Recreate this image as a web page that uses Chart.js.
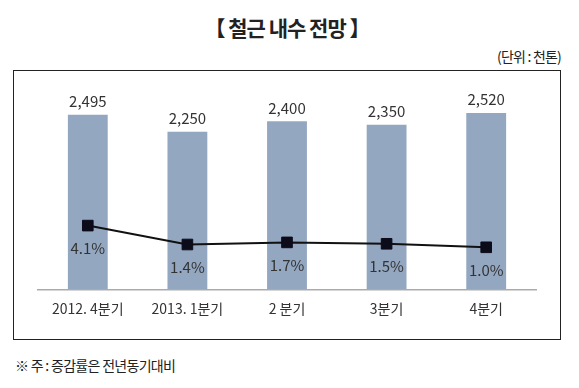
<!DOCTYPE html>
<html>
<head>
<meta charset="utf-8">
<title>철근 내수 전망</title>
<script src="https://cdn.jsdelivr.net/npm/chart.js@4/dist/chart.umd.min.js"></script>
<style>
  body { margin: 0; background: #fff; width: 579px; height: 388px; position: relative; overflow: hidden;
         font-family: "Noto Sans CJK KR", sans-serif; color: #222; }
  .title { position: absolute; left: 0; width: 574px; top: 12px; text-align: center;
           font-size: 21px; font-weight: bold; letter-spacing: -1px; }
  .unit { position: absolute; right: 18px; top: 46px; font-size: 14px; letter-spacing: -0.8px; }
  .box { position: absolute; left: 13px; top: 70px; width: 546px; height: 268px; border: 1.5px solid #222; }
  .note { position: absolute; left: 15px; top: 355px; font-size: 14px; letter-spacing: -0.7px; }
  #chart { position: absolute; left: 0; top: 0; }
</style>
</head>
<body>
<div class="title">【 철근 내수 전망 】</div>
<div class="unit">(단위 : 천톤)</div>
<div class="box"></div>
<div class="note">※ 주 : 증감률은 전년동기대비</div>
<canvas id="chart" width="579" height="388"></canvas>
<script>
// 분기별 내수 (천톤) 와 전년동기대비 증감률 (%)
const quarters = ["2012. 4분기", "2013. 1분기", "2 분기", "3분기", "4분기"];
const demand = [2495, 2250, 2400, 2350, 2520];
const growth = [4.1, 1.4, 1.7, 1.5, 1.0];

const labelPlugin = {
  id: "valueLabels",
  afterDatasetsDraw(chart) {
    const ctx = chart.ctx;
    ctx.save();
    ctx.font = "15px 'Noto Sans CJK KR'";
    ctx.fillStyle = "#333";
    ctx.textAlign = "center";
    ctx.textBaseline = "middle";
    chart.getDatasetMeta(1).data.forEach((bar, i) => {
      ctx.fillText(demand[i].toLocaleString("en-US"), bar.x, bar.y - 13.5);
    });
    chart.getDatasetMeta(0).data.forEach((pt, i) => {
      ctx.fillText(growth[i].toFixed(1) + "%", pt.x, pt.y + 22.5);
    });
    ctx.restore();
  }
};

new Chart(document.getElementById("chart").getContext("2d"), {
  data: {
    labels: quarters,
    datasets: [
      {
        type: "line",
        data: growth,
        yAxisID: "y1",
        order: 0,
        borderColor: "#111",
        borderWidth: 2,
        pointStyle: "rect",
        pointRadius: 7.5,
        pointBackgroundColor: "#0b0b1a",
        pointBorderColor: "#0b0b1a",
        pointBorderWidth: 1,
        tension: 0
      },
      {
        type: "bar",
        data: demand,
        yAxisID: "y",
        order: 1,
        backgroundColor: "#93a7c1",
        categoryPercentage: 1,
        barPercentage: 0.4
      }
    ]
  },
  options: {
    responsive: false,
    animation: false,
    layout: { padding: { left: 38, right: 43, top: 79.3, bottom: 0 } },
    plugins: { legend: { display: false }, tooltip: { enabled: false } },
    scales: {
      x: {
        grid: { display: false, drawTicks: false },
        border: { display: true, color: "#ababab", width: 1.5 },
        ticks: { color: "#333", padding: 11, font: { size: 14, family: "'Noto Sans CJK KR'" } },
        afterFit: s => { s.height = 98.7; }
      },
      y: { display: false, min: 0, max: 3000 },
      y1: { display: false, min: -5, max: 25 }
    }
  },
  plugins: [labelPlugin]
});
</script>
</body>
</html>
